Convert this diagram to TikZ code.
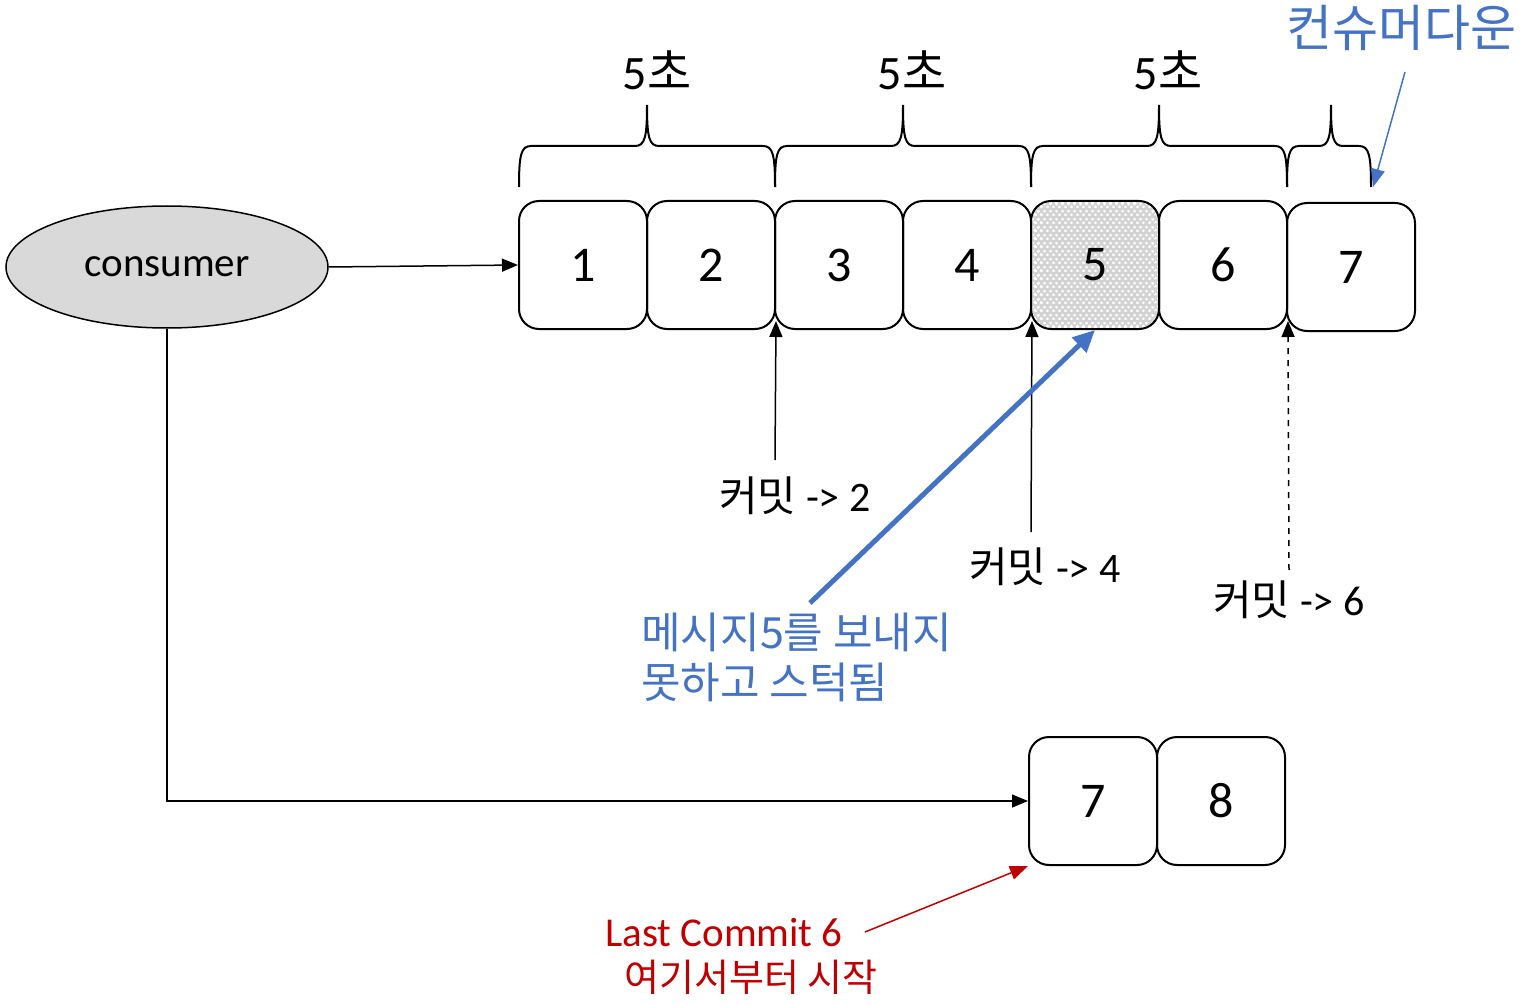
\documentclass[tikz,border=0pt]{standalone}
\usepackage{fontspec}
\setmainfont{Carlito}
\newfontfamily\kr{Noto Sans CJK KR}
\usetikzlibrary{arrows.meta,shapes.geometric,positioning,decorations.pathmorphing}
\definecolor{downblue}{RGB}{68,114,196}
\definecolor{startred}{RGB}{192,0,0}
\definecolor{consgray}{RGB}{217,217,217}
% curly brace over a time window: left end, tip, right end
\newcommand\timebrace[3]{%
  \draw[line width=1pt] (#1,187) .. controls (#1,155) and (#1+2,146) .. (#1+12,146)
    -- (#2-12,146) .. controls (#2-2,146) and (#2,137) .. (#2,105)
    .. controls (#2,137) and (#2+2,146) .. (#2+12,146)
    -- (#3-12,146) .. controls (#3-2,146) and (#3,155) .. (#3,187);}
\begin{document}
\begin{tikzpicture}[x=0.5pt, y=-0.5pt,
    msgbox/.style = {draw, line width=1pt, rounded corners=10pt, minimum width=64pt,
      minimum height=64pt, inner sep=0pt, font=\fontsize{25}{30}\selectfont},
    stuck/.style = {msgbox, path picture={
      \foreach \k in {0,...,16}
        \draw[gray!35, line width=0.35pt, decorate, decoration={zigzag, segment length=3pt, amplitude=0.9pt}]
          ([yshift=-\k*4pt]path picture bounding box.north west) -- ([yshift=-\k*4pt]path picture bounding box.north east);}},
    tip/.style = {-{Triangle[length=8pt, width=6.5pt]}, line width=0.75pt},
    sec/.style = {font=\fontsize{24}{28}\selectfont},
    commit/.style = {font=\fontsize{21}{25}\selectfont}]
  \useasboundingbox (0,0) rectangle (1528,1006);

  % consumer
  \node [ellipse, draw, line width=0.75pt, fill=consgray, minimum width=161pt, minimum height=61pt,
    inner sep=0pt, font=\fontsize{20.5}{24}\selectfont] (cons) at (167,267) {consumer};

  % partition
  \node [msgbox] (b1) at (583,265) {1};
  \node [msgbox] (b2) at (711,265) {2};
  \node [msgbox] (b3) at (839,265) {3};
  \node [msgbox] (b4) at (967,265) {4};
  \node [stuck] (b5) at (1095,265) {5};
  \node [msgbox] (b6) at (1223,265) {6};
  \node [msgbox] (b7) at (1351,267) {7};

  % after rebalance
  \node [msgbox] (m7) at (1093,801) {7};
  \node [msgbox] (m8) at (1221,801) {8};

  % time windows
  \timebrace{519}{647}{775}
  \timebrace{775}{903}{1031}
  \timebrace{1031}{1159}{1287}
  \timebrace{1287}{1331}{1371}
  \node [sec] (t1) at (657,70) {5{\kr 초}};
  \node [sec] (t2) at (912,70) {5{\kr 초}};
  \node [sec] (t3) at (1168,70) {5{\kr 초}};

  \node [font=\fontsize{25}{28}\kr, text=downblue] (down) at (1401,28) {컨슈머다운};
  \coordinate (d0) at (1405,72);
  \coordinate (d1) at (1373,187);
  \draw [-{Triangle[length=9pt, width=7pt]}, downblue, line width=0.75pt] (d0) -- (d1);

  % commits
  \node [commit] (k2) at (795,496) {{\kr 커밋} -> 2};
  \node [commit] (k4) at (1045,567) {{\kr 커밋} -> 4};
  \node [commit] (k6) at (1289,600) {{\kr 커밋} -> 6};
  \coordinate (c2) at (775,460);
  \coordinate (c4) at (1031,532);
  \coordinate (c6) at (1289,570);
  \draw [tip] (c2) -- ([yshift=4.5pt]b2.south east);
  \draw [tip] (c4) -- ([yshift=4.5pt]b4.south east);
  \draw [tip, dashed] (c6) -- ([yshift=4.5pt]b6.south east);

  % stuck message
  \node [font=\fontsize{21.5}{25}\kr, text=downblue, align=left, anchor=north west, inner sep=0pt]
    (msg) at (641,613) {메시지5를 보내지\\못하고 스턱됨};
  \coordinate (s0) at (810,603);
  \draw [-{Triangle[length=11pt, width=10pt]}, downblue, line width=2.5pt] (s0) -- (b5.south);

  % consumer arrows
  \draw [tip] (cons.east) -- (b1.west);
  \draw [tip] (cons.south) |- (m7.west);

  % restart
  \node [font=\fontsize{20.5}{24}\selectfont, text=startred] (last) at (724,933) {Last Commit 6};
  \node [font=\fontsize{19}{22}\kr, text=startred] (start) at (751,977) {여기서부터 시작};
  \coordinate (r0) at (865,932);
  \draw [-{Triangle[length=9pt, width=7pt]}, startred, line width=0.75pt] (r0) -- (m7.south west);
\end{tikzpicture}
\end{document}
